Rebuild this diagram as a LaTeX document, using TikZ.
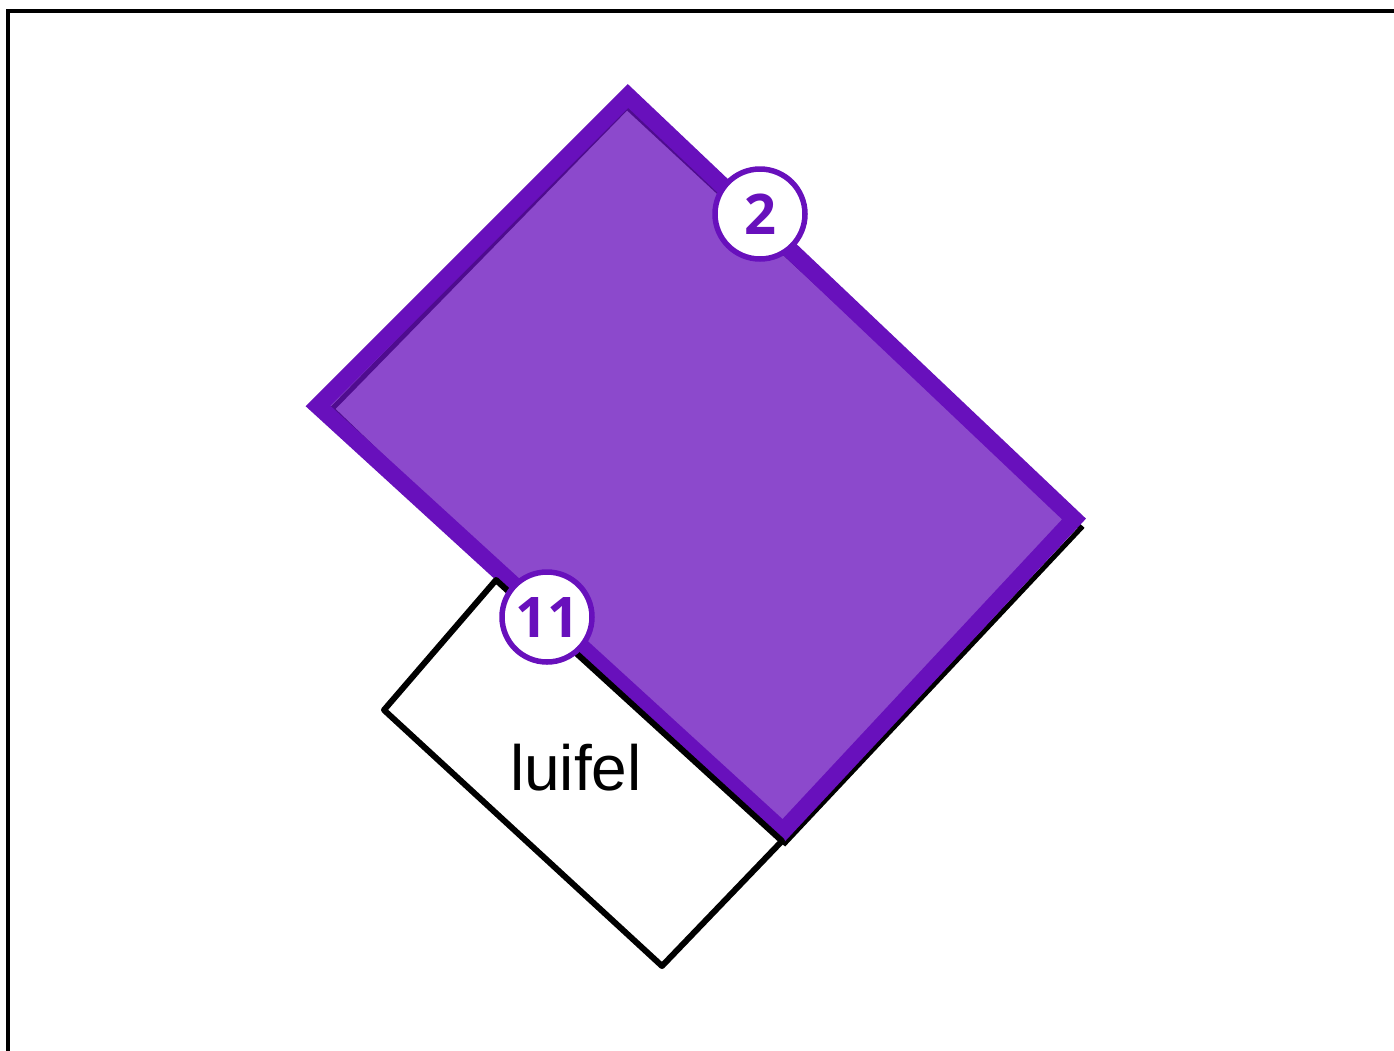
\documentclass[tikz,border=0pt]{standalone}
\usepackage{fontspec}
\setmainfont{Liberation Sans}
\newfontfamily\badgefont{Open Sans}
\definecolor{roompurple}{RGB}{104,16,188}
\tikzset{
  roomline/.style={draw=black,line width=5pt,line join=miter},
  roomfill/.style={fill=roompurple,fill opacity=0.76},
  roomedge/.style={draw=roompurple,line width=17pt,line join=miter},
  luifelline/.style={draw=black,line width=6pt,line join=round},
  badge/.style={circle,draw=roompurple,line width=5.5pt,fill=white,minimum size=90pt,inner sep=0pt,
    text=roompurple,font=\badgefont\bfseries\fontsize{56}{58}\selectfont},
  framebox/.style={draw=black,line width=3.5pt}
}
\begin{document}
\begin{tikzpicture}[x=1pt,y=-1pt]
\useasboundingbox (0,0) rectangle (1394,1050);
% frame
\coordinate (f1) at (8,1100);
\coordinate (f2) at (8,11);
\coordinate (f3) at (1450,11);
\draw[framebox] (f1) -- (f2) -- (f3);
% black room outline underneath
\coordinate (bt) at (627,107);
\coordinate (bl) at (332,409);
\coordinate (br) at (1081,528);
\coordinate (bb) at (785,843);
\draw[roomline] (bt) -- (br) -- (bb) -- (bl) -- cycle;
% purple room
\coordinate (pt) at (628,96);
\coordinate (pl) at (318,406);
\coordinate (pr) at (1074,519);
\coordinate (pb) at (783,831);
\fill[roomfill] (pt) -- (pr) -- (pb) -- (pl) -- cycle;
\draw[roomedge] (pt) -- (pr) -- (pb) -- (pl) -- cycle;
% luifel
\coordinate (la) at (496,580);
\coordinate (lb) at (384,710);
\coordinate (lc) at (662,966);
\coordinate (ld) at (782,841);
\draw[luifelline] (la) -- (lb) -- (lc) -- (ld) -- cycle;
\node[anchor=base,font=\fontsize{64}{66}\selectfont] (luifel) at (576,790) {luifel};
% badges
\node[badge] (b2) at (760,214) {2};
\node[badge] (b11) at (547,617) {11};
\end{tikzpicture}
\end{document}
